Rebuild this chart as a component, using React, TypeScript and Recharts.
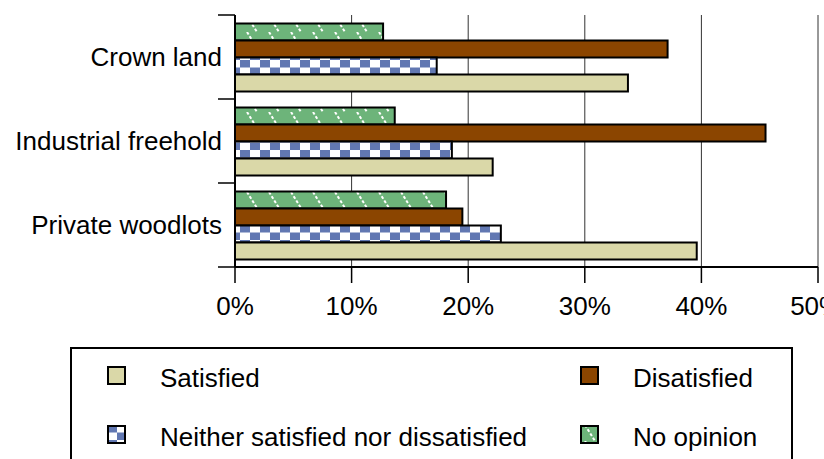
import { Bar, BarChart, CartesianGrid, XAxis, YAxis } from "recharts"

const categories = ["Crown land", "Industrial freehold", "Private woodlots"]
const satisfied = [33.7, 22.1, 39.6]
const dissatisfied = [37.1, 45.5, 19.5]
const neither = [17.3, 18.6, 22.8]
const noOpinion = [12.7, 13.7, 18.1]
const xTicks = [0, 10, 20, 30, 40, 50]

const data = categories.map((name, i) => ({
  name,
  satisfied: satisfied[i],
  dissatisfied: dissatisfied[i],
  neither: neither[i],
  noOpinion: noOpinion[i],
}))

const FONT = "'Liberation Sans', Arial, sans-serif"
const BEIGE = "#dad8a8"
const BROWN = "#8b4500"
const BLUE = "#6278b2"
const GREEN = "#6db47a"

const PLOT_LEFT = 235
const PLOT_TOP = 15
const PLOT_BOTTOM = 267
const BAND = (PLOT_BOTTOM - PLOT_TOP) / categories.length

function CategoryTick(props: any) {
  const { x, y, payload, index } = props
  const half = BAND / 2
  return (
    <g>
      <text x={x} y={y} textAnchor="end" dominantBaseline="central" fontSize={26} fill="#000" fontFamily={FONT}>
        {payload.value}
      </text>
      <line x1={PLOT_LEFT - 17} x2={PLOT_LEFT} y1={y - half} y2={y - half} stroke="#000" strokeWidth={1.5} />
      {index === categories.length - 1 && (
        <line x1={PLOT_LEFT - 17} x2={PLOT_LEFT} y1={y + half} y2={y + half} stroke="#000" strokeWidth={1.5} />
      )}
    </g>
  )
}

function Patterns() {
  return (
    <defs>
      <pattern id="checker" width={20} height={15} patternUnits="userSpaceOnUse">
        <rect width={20} height={15} fill="#fff" />
        <rect x={0} y={0} width={10} height={7.5} fill={BLUE} />
        <rect x={10} y={7.5} width={10} height={7.5} fill={BLUE} />
      </pattern>
      <pattern id="hatch" width={22} height={16} patternUnits="userSpaceOnUse">
        <rect width={22} height={16} fill={GREEN} />
        <line x1={5} y1={0} x2={15} y2={16} stroke="#fff" strokeWidth={2} strokeDasharray="3 2" />
      </pattern>
    </defs>
  )
}

function Swatch({ fill }: { fill: string }) {
  return (
    <svg width={19} height={19} style={{ display: "block" }}>
      <rect x={1} y={1} width={17} height={17} fill={fill} stroke="#000" strokeWidth={2} />
    </svg>
  )
}

const legendItems = [
  { label: "Satisfied", fill: BEIGE, left: 35, top: 17 },
  { label: "Disatisfied", fill: BROWN, left: 508, top: 17 },
  { label: "Neither satisfied nor dissatisfied", fill: "url(#checker)", left: 35, top: 76 },
  { label: "No opinion", fill: "url(#hatch)", left: 508, top: 76 },
]

export default function App() {
  return (
    <div
      style={{
        position: "absolute",
        left: 0,
        top: 0,
        width: 824,
        height: 459,
        overflow: "hidden",
        background: "#fff",
        fontFamily: FONT,
      }}
    >
      <BarChart
        width={840}
        height={459}
        data={data}
        layout="vertical"
        margin={{ top: PLOT_TOP, right: 22, bottom: 132, left: 0 }}
        barCategoryGap="10%"
        barGap={0}
      >
        <Patterns />
        <CartesianGrid horizontal={false} stroke="#333" strokeWidth={1} />
        <XAxis
          type="number"
          domain={[0, 50]}
          ticks={xTicks}
          tickFormatter={(v) => `${v}%`}
          height={60}
          tickSize={16}
          tickMargin={14}
          tick={{ fill: "#000", fontSize: 26, fontFamily: FONT }}
          tickLine={{ stroke: "#000", strokeWidth: 1.5 }}
          axisLine={{ stroke: "#000", strokeWidth: 2 }}
        />
        <YAxis
          type="category"
          dataKey="name"
          width={PLOT_LEFT}
          tickSize={0}
          tickMargin={13}
          tick={<CategoryTick />}
          axisLine={{ stroke: "#000", strokeWidth: 2 }}
        />
        <Bar dataKey="noOpinion" name="No opinion" fill="url(#hatch)" stroke="#000" strokeWidth={2} isAnimationActive={false} />
        <Bar dataKey="dissatisfied" name="Disatisfied" fill={BROWN} stroke="#000" strokeWidth={2} isAnimationActive={false} />
        <Bar dataKey="neither" name="Neither satisfied nor dissatisfied" fill="url(#checker)" stroke="#000" strokeWidth={2} isAnimationActive={false} />
        <Bar dataKey="satisfied" name="Satisfied" fill={BEIGE} stroke="#000" strokeWidth={2} isAnimationActive={false} />
      </BarChart>
      <div
        style={{
          position: "absolute",
          left: 70,
          top: 347,
          width: 723,
          height: 130,
          border: "2px solid #000",
          boxSizing: "border-box",
        }}
      >
        {legendItems.map((item) => (
          <div key={item.label}>
            <div style={{ position: "absolute", left: item.left, top: item.top }}>
              <Swatch fill={item.fill} />
            </div>
            <span
              style={{
                position: "absolute",
                left: item.left + 53,
                top: item.top - 1,
                fontSize: 26,
                lineHeight: "26px",
                whiteSpace: "nowrap",
                color: "#000",
              }}
            >
              {item.label}
            </span>
          </div>
        ))}
      </div>
    </div>
  )
}
